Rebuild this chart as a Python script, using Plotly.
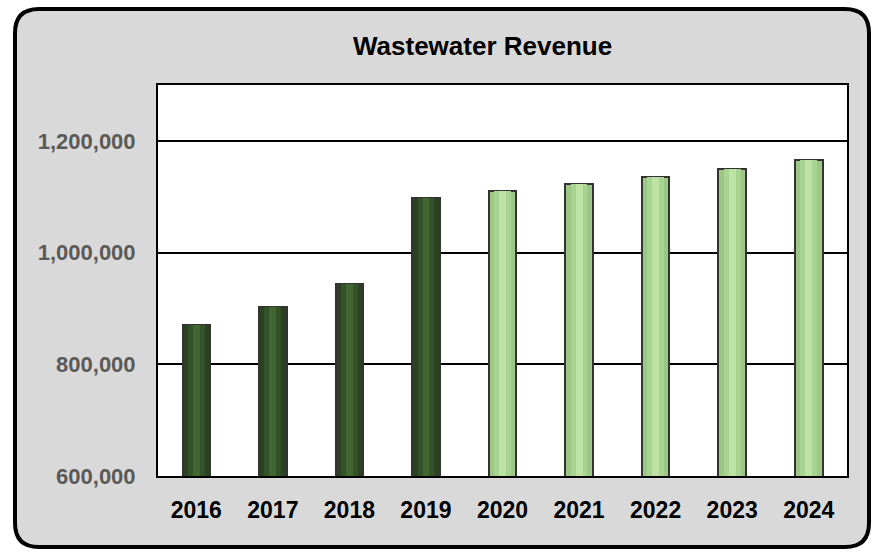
import plotly.graph_objects as go

years = ["2016", "2017", "2018", "2019", "2020", "2021", "2022", "2023", "2024"]
revenue = [870000, 902000, 943000, 1097000, 1111000, 1122000, 1136000, 1150000, 1165000]
is_projected = [False, False, False, False, True, True, True, True, True]
y_ticks = [600000, 800000, 1000000, 1200000]
y_tick_text = ["600,000", "800,000", "1,000,000", "1,200,000"]
title_text = "Wastewater Revenue"

W, H = 879, 552
L, R, T, B = 158, 32, 85, 76
PW, PH = W - L - R, H - T - B

def px(x):
    return (x - L) / PW

def py(y):
    return (H - B - y) / PH

FONT = "Liberation Sans, Arial, sans-serif"

edge = ["#9cc784" if p else "#2a421f" for p in is_projected]
mid = ["#a9d390" if p else "#34522a" for p in is_projected]
hi = ["#bde2a4" if p else "#426630" for p in is_projected]

fig = go.Figure()
fig.add_bar(x=years, y=revenue, width=0.36, marker=dict(color=edge, line=dict(color="#333333", width=2)),
            hoverinfo="x+y")
fig.add_bar(x=years, y=revenue, width=0.22, marker=dict(color=mid, line=dict(width=0)), hoverinfo="skip")
fig.add_bar(x=years, y=revenue, width=0.09, marker=dict(color=hi, line=dict(width=0)), hoverinfo="skip")

# rounded outer frame
x0, x1, y0, y1, r = 15, 869, 9, 547, 24
path = (f"M {px(x0 + r)},{py(y0)} L {px(x1 - r)},{py(y0)} Q {px(x1)},{py(y0)} {px(x1)},{py(y0 + r)} "
        f"L {px(x1)},{py(y1 - r)} Q {px(x1)},{py(y1)} {px(x1 - r)},{py(y1)} "
        f"L {px(x0 + r)},{py(y1)} Q {px(x0)},{py(y1)} {px(x0)},{py(y1 - r)} "
        f"L {px(x0)},{py(y0 + r)} Q {px(x0)},{py(y0)} {px(x0 + r)},{py(y0)} Z")

fig.update_layout(
    width=W, height=H,
    margin=dict(l=L, r=R, t=T, b=B),
    paper_bgcolor="white", plot_bgcolor="white",
    barmode="overlay", bargap=0, showlegend=False,
    shapes=[
        dict(type="path", xref="paper", yref="paper", path=path, fillcolor="#d9d9d9",
             line=dict(color="black", width=4), layer="below"),
        dict(type="rect", xref="paper", yref="paper", x0=0, x1=1, y0=0, y1=1,
             fillcolor="white", line=dict(width=0), layer="below"),
    ],
    annotations=[dict(text=f"<b>{title_text}</b>", xref="paper", yref="paper", x=px(482), y=py(46),
                      xanchor="center", yanchor="middle", showarrow=False,
                      font=dict(family=FONT, size=26, color="black"))],
)
fig.update_xaxes(type="category", showline=True, linecolor="black", linewidth=2, mirror=True,
                 showgrid=False, ticks="", ticklabelstandoff=12,
                 tickfont=dict(family=FONT, size=23, color="black", weight="bold"))
fig.update_yaxes(range=[600000, 1300000], tickvals=y_ticks, ticktext=y_tick_text,
                 showline=True, linecolor="black", linewidth=2, mirror=True,
                 showgrid=True, gridcolor="black", gridwidth=1.5, zeroline=False,
                 ticks="", ticklabelstandoff=16,
                 tickfont=dict(family=FONT, size=22, color="#595959", weight="bold"))

fig.write_html("out.html", config={"displayModeBar": False},
               post_script="document.body.style.margin='0';")
